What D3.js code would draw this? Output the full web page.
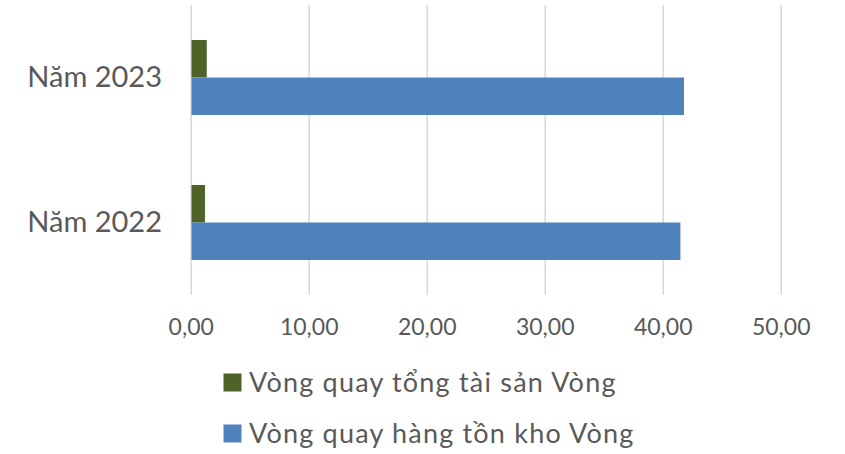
<!DOCTYPE html>
<html>
<head>
<meta charset="utf-8">
<script src="https://cdn.jsdelivr.net/npm/d3@7"></script>
<style>
  body { margin: 0; background: #fff; }
  text { font-family: Lato, "Open Sans", sans-serif; fill: #595959; }
</style>
</head>
<body>
<div id="container"></div>
<script>
const categories = ["Năm 2023", "Năm 2022"];
const seriesNames = ["Vòng quay tổng tài sản Vòng", "Vòng quay hàng tồn kho Vòng"];
const assetTurnover = [1.36, 1.21];
const inventoryTurnover = [41.8, 41.5];
const xTicks = [0, 10, 20, 30, 40, 50];
const colors = ["#4F6228", "#4F81BD"];

const width = 845;
const height = 454;
const svg = d3.select("#container").append("svg")
  .attr("width", width)
  .attr("height", height);

const x = d3.scaleLinear().domain([0, 50]).range([190.7, 780.7]);
const y0 = d3.scaleBand().domain(categories).range([5, 295])
  .paddingInner(70 / 145).paddingOuter(35 / 145);
const y1 = d3.scaleBand().domain(seriesNames).range([0, y0.bandwidth()]);

const rows = categories.map((c, i) => ({
  cat: c,
  values: [
    { s: seriesNames[0], v: assetTurnover[i], color: colors[0] },
    { s: seriesNames[1], v: inventoryTurnover[i], color: colors[1] }
  ]
}));

// gridlines + tick labels
const fmt = d => d3.format(".2f")(d).replace(".", ",");
const xAxis = d3.axisBottom(x).tickValues(xTicks).tickSize(290).tickFormat(fmt);
const axisG = svg.append("g")
  .attr("transform", "translate(0,5)")
  .call(xAxis);
axisG.select(".domain").remove();
axisG.selectAll(".tick line").attr("stroke", "#d9d9d9").attr("stroke-width", 1.5);
axisG.selectAll(".tick text")
  .attr("y", 330)
  .attr("dy", 0)
  .attr("font-size", 23)
  .attr("font-family", "Lato")
  .attr("fill", "#595959");

// bars
const groups = svg.selectAll(".cat").data(rows).enter()
  .append("g")
  .attr("class", "cat")
  .attr("transform", d => `translate(0,${y0(d.cat)})`);
groups.selectAll("rect").data(d => d.values).enter()
  .append("rect")
  .attr("x", x(0) + 0.8)
  .attr("y", d => y1(d.s))
  .attr("width", d => x(d.v) - x(0) - 0.8)
  .attr("height", y1.bandwidth())
  .attr("fill", d => d.color);

// category labels
const yAxis = d3.axisLeft(y0).tickSize(0).tickPadding(0);
const yG = svg.append("g")
  .attr("transform", "translate(162,0)")
  .call(yAxis);
yG.select(".domain").remove();
yG.selectAll(".tick text")
  .attr("dy", 9)
  .attr("font-size", 29)
  .attr("font-family", "Lato")
  .attr("fill", "#595959");

// legend
const legend = svg.selectAll(".legend").data(seriesNames).enter()
  .append("g")
  .attr("class", "legend")
  .attr("transform", (d, i) => `translate(223.5,${373.5 + i * 51})`);
legend.append("rect")
  .attr("width", 18)
  .attr("height", 18)
  .attr("fill", (d, i) => colors[i]);
legend.append("text")
  .attr("x", 25.5)
  .attr("y", 18)
  .attr("font-size", 27)
  .attr("letter-spacing", 1.2)
  .text(d => d);
</script>
</body>
</html>
